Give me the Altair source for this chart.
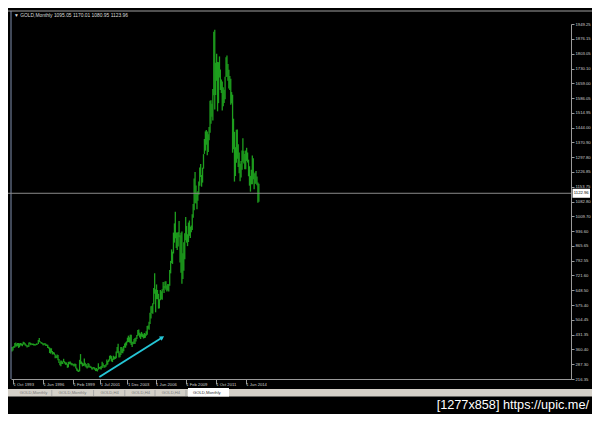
import altair as alt
import pandas as pd

# ---------------- data ----------------
# monthly GOLD bars, Sep 1993 .. Aug 2015 (low / high)
lows = [
    350, 355, 368, 370,                                              # 1993 Sep-Dec
    375, 375, 378, 368, 372, 380, 380, 376, 385, 385, 380, 376,      # 1994
    370, 372, 374, 386, 381, 383, 382, 380, 380, 380, 382, 384,      # 1995
    387, 397, 394, 390, 387, 381, 381, 384, 378, 378, 368, 365,      # 1996
    343, 340, 346, 336, 338, 334, 318, 319, 318, 308, 294, 283,      # 1997
    278, 290, 289, 299, 292, 286, 286, 271, 273, 288, 290, 283,      # 1998
    283, 282, 277, 278, 267, 257, 253, 251, 254, 290, 288, 278,      # 1999
    280, 282, 277, 273, 268, 271, 275, 271, 270, 263, 263, 267,      # 2000
    262, 255, 255, 253, 262, 266, 264, 263, 270, 278, 271, 272,      # 2001
    276, 284, 287, 299, 306, 315, 302, 299, 310, 311, 314, 318,      # 2002
    345, 342, 321, 322, 333, 343, 342, 352, 370, 369, 380, 395,      # 2003
    397, 395, 391, 382, 372, 386, 387, 387, 399, 411, 426, 430,      # 2004
    419, 411, 423, 421, 414, 416, 418, 428, 432, 462, 457, 485,      # 2005
    512, 538, 535, 581, 633, 542, 606, 606, 560, 561, 601, 606,      # 2006
    603, 650, 636, 659, 652, 643, 648, 643, 672, 732, 782, 778,      # 2007
    829, 882, 903, 856, 846, 863, 908, 785, 735, 681, 705, 745,      # 2008
    801, 894, 882, 865, 885, 915, 905, 933, 944, 1003, 1040, 1075,   # 2009
    1073, 1045, 1086, 1116, 1160, 1202, 1155, 1175, 1243, 1315, 1331, 1360,  # 2010
    1308, 1324, 1382, 1418, 1462, 1496, 1478, 1601, 1532, 1603, 1672, 1523,  # 2011
    1563, 1688, 1627, 1613, 1527, 1548, 1564, 1582, 1690, 1692, 1672, 1635,  # 2012
    1627, 1555, 1562, 1321, 1338, 1180, 1207, 1272, 1292, 1251, 1221, 1182,  # 2013
    1200, 1238, 1277, 1268, 1240, 1240, 1281, 1273, 1206, 1160, 1131, 1167,  # 2014
    1167, 1191, 1142, 1170, 1170, 1162, 1077, 1081,                          # 2015 Jan-Aug
]
highs = [
    372, 374, 378, 392,
    395, 388, 392, 392, 390, 392, 390, 388, 398, 396, 391, 385,
    381, 380, 394, 396, 392, 390, 389, 389, 387, 386, 390, 389,
    407, 416, 401, 397, 395, 392, 388, 392, 389, 385, 384, 374,
    370, 366, 366, 353, 348, 346, 336, 330, 336, 334, 314, 298,
    307, 306, 301, 315, 303, 298, 297, 289, 300, 300, 302, 296,
    293, 291, 290, 292, 290, 271, 264, 259, 310, 338, 302, 296,
    292, 316, 296, 290, 280, 294, 291, 281, 279, 275, 272, 275,
    272, 268, 270, 265, 293, 275, 276, 280, 300, 293, 285, 284,
    288, 312, 304, 312, 330, 332, 328, 316, 330, 325, 327, 350,
    373, 389, 352, 342, 372, 372, 365, 378, 390, 395, 400, 418,
    428, 420, 432, 432, 397, 400, 411, 416, 419, 431, 455, 458,
    442, 437, 446, 438, 434, 441, 437, 449, 475, 478, 496, 540,
    571, 574, 586, 660, 732, 654, 678, 651, 632, 606, 651, 645,
    654, 690, 670, 692, 693, 673, 680, 679, 749, 793, 849, 838,
    931, 976, 1033, 932, 930, 934, 988, 918, 930, 936, 830, 884,
    928, 1007, 963, 923, 980, 990, 960, 966, 1020, 1070, 1195, 1227,
    1161, 1125, 1133, 1181, 1249, 1266, 1212, 1248, 1314, 1388, 1425, 1432,
    1424, 1411, 1447, 1575, 1577, 1560, 1632, 1912, 1921, 1760, 1804, 1764,
    1763, 1791, 1727, 1678, 1668, 1641, 1628, 1692, 1787, 1796, 1754, 1726,
    1696, 1682, 1617, 1604, 1487, 1423, 1348, 1433, 1434, 1362, 1322, 1267,
    1280, 1332, 1392, 1331, 1315, 1332, 1345, 1322, 1287, 1255, 1208, 1238,
    1307, 1294, 1220, 1224, 1232, 1205, 1175, 1170,
]
first_month = "1993-09-01"

y_tick_values = [1949.25, 1876.15, 1803.05, 1730.10, 1659.00, 1586.05, 1514.95,
                 1444.00, 1370.90, 1297.80, 1226.85, 1153.75, 1082.80, 1009.70,
                 936.60, 865.65, 792.55, 721.60, 648.50, 575.40, 504.45, 431.35,
                 360.40, 287.30, 216.35]
x_tick_dates = [(1993, 10), (1996, 6), (1999, 2), (2001, 7), (2003, 12),
                (2006, 6), (2009, 2), (2011, 10), (2014, 6)]

arrow_dates = ["2001-06-01", "2007-01-01"]
arrow_prices = [226, 419]

last_price = 1122.96
header = "\u25BC GOLD,Monthly  1095.05 1170.01 1080.95 1123.96"
tab_labels = ["GOLD,Monthly", "GOLD,Monthly", "GOLD,H4", "GOLD,H4", "GOLD,H4", "GOLD,Monthly"]
watermark = "[1277x858] https://upic.me/"

# ---------------- tables ----------------
dates = pd.date_range(first_month, periods=len(highs), freq="MS").strftime("%Y-%m-%d")
bars_df = pd.DataFrame({"date": dates, "low": lows, "high": highs})
arrow_df = pd.DataFrame({"date": arrow_dates, "price": arrow_prices})
one = pd.DataFrame({"k": [0]})

FONT = "Liberation Sans"
GREEN = "#1e9e1e"
CYAN = "#25c6d6"
AXC = "#9a9a9a"
LABC = "#cfcfcf"

W, H = 560, 355   # plot area

xscale = alt.Scale(type="utc", domain=[alt.DateTime(year=1993, month=7, date=29, utc=True),
                                       alt.DateTime(year=2043, month=4, date=19, utc=True)])
yscale = alt.Scale(domain=[216.35, 1949.25], nice=False, zero=False)

x_axis = alt.Axis(values=[alt.DateTime(year=y, month=m, date=1, utc=True) for y, m in x_tick_dates],
                  labelExpr="'\u00a0' + utcFormat(datum.value, '%-d %b %Y')",
                  title=None, grid=False,
                  labelAlign="left", labelBaseline="middle", labelPadding=0,
                  tickSize=5, tickColor=AXC, domainColor=AXC, labelColor=LABC,
                  labelFont=FONT, labelFontSize=4.2, labelOverlap=False, labelFlush=False)
y_axis = alt.Axis(orient="right", values=y_tick_values, format=".2f", title=None, grid=False,
                  tickSize=3, labelPadding=1, tickColor=AXC, domainColor=AXC, labelColor=LABC,
                  labelFont=FONT, labelFontSize=4.2, labelOverlap=False, labelFlush=False)

bars = alt.Chart(bars_df).mark_rule(color=GREEN, strokeWidth=1.3).encode(
    x=alt.X("date:T", scale=xscale, axis=x_axis),
    y=alt.Y("low:Q", scale=yscale, axis=y_axis),
    y2="high:Q",
)

arrow = alt.Chart(arrow_df).mark_line(color=CYAN, strokeWidth=2).encode(
    x=alt.X("date:T", scale=xscale, axis=x_axis),
    y=alt.Y("price:Q", scale=yscale, axis=y_axis),
)
arrow_head = alt.Chart(arrow_df.iloc[[1]]).mark_point(
    shape="triangle-up", angle=58, size=26, filled=True, color=CYAN, opacity=1
).encode(
    x=alt.X("date:T", scale=xscale, axis=x_axis),
    y=alt.Y("price:Q", scale=yscale, axis=y_axis),
)

price_y = alt.YDatum(last_price, type="quantitative", scale=yscale, axis=y_axis)
price_line = alt.Chart(one).mark_rule(color="#8a8a8a", strokeWidth=1).encode(
    x=alt.value(-3), x2=alt.value(W), y=price_y)
price_box = alt.Chart(one).mark_rule(color="#ffffff", strokeWidth=9, strokeCap="butt").encode(
    x=alt.value(W + 1.5), x2=alt.value(W + 19), y=price_y)
price_text = alt.Chart(one).mark_text(font=FONT, fontSize=4.2, color="#000000",
                                      align="center", baseline="middle").encode(
    x=alt.value(W + 10.2), y=price_y, text=alt.value(f"{last_price:.2f}"))

top_line = alt.Chart(one).mark_rule(color="#a0a0a0", strokeWidth=1).encode(
    x=alt.value(-3), x2=alt.value(W + 21), y=alt.value(-13))
left_line = alt.Chart(one).mark_rule(color="#8090b0", strokeWidth=1).encode(
    x=alt.value(0), y=alt.value(-13), y2=alt.value(H))

title = alt.Chart(one).mark_text(font=FONT, fontSize=4.9, color="#dcdcdc",
                                 align="left", baseline="middle").encode(
    x=alt.value(3), y=alt.value(-8), text=alt.value(header))

tab_bar = alt.Chart(one).mark_rect(color="#d4d0c8").encode(
    x=alt.value(-3), x2=alt.value(W + 21), y=alt.value(H + 10), y2=alt.value(H + 17.5))
active_tab = alt.Chart(one).mark_rect(color="#ffffff").encode(
    x=alt.value(177), x2=alt.value(218), y=alt.value(H + 9), y2=alt.value(H + 17.5))

tab_x = [8.7, 47.6, 89.5, 120.6, 150.8, 182]
sep_x = [40.8, 82.6, 113.8, 144, 175]
tab_layers = []
for i, (lbl, tx) in enumerate(zip(tab_labels, tab_x)):
    tab_layers.append(alt.Chart(one).mark_text(
        font=FONT, fontSize=4.2, color="#303030" if i == len(tab_labels) - 1 else "#7a7a7a",
        align="left", baseline="middle").encode(
        x=alt.value(tx), y=alt.value(H + 14), text=alt.value(lbl)))
for sx in sep_x:
    tab_layers.append(alt.Chart(one).mark_rule(color="#a8a8a8").encode(
        x=alt.value(sx), y=alt.value(H + 11), y2=alt.value(H + 17)))

wm = alt.Chart(one).mark_text(font=FONT, fontSize=12.7, color="#ffffff",
                              align="right", baseline="middle").encode(
    x=alt.value(W + 18), y=alt.value(H + 25.5), text=alt.value(watermark))

chart = alt.layer(
    bars, top_line, left_line, price_line, arrow, arrow_head, title,
    price_box, price_text, tab_bar, active_tab, *tab_layers, wm
).properties(
    width=W, height=H,
    padding={"left": 3, "top": 16, "right": 21, "bottom": 35},
    autosize=alt.AutoSizeParams(type="none"),
    background="#000000",
).configure_view(strokeWidth=0)

chart.save("out.html", embed_options={"renderer": "svg", "actions": False})
